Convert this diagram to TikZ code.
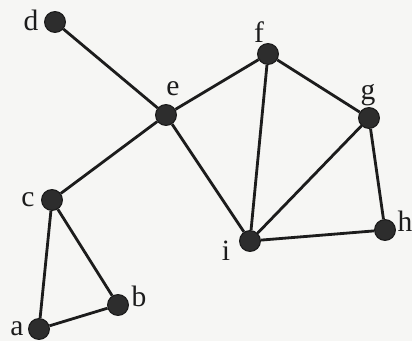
\documentclass[tikz,border=0pt]{standalone}
\usepackage{fontspec}
\setmainfont{Liberation Serif}
\usepackage{tikz}
\definecolor{paper}{RGB}{246,246,244}
\definecolor{ink}{RGB}{28,28,28}
\definecolor{dot}{RGB}{45,45,45}

\begin{document}
\begin{tikzpicture}[x=0.025cm, y=-0.025cm, vertex/.style={circle, fill=dot, draw=ink, line width=0.8pt, minimum size=0.52cm, inner sep=0pt}, vlabel/.style={inner sep=0pt, text=ink, font=\fontsize{21}{24}\selectfont}, edge/.style={draw=ink, line width=2pt}]
\fill[paper] (0,0) rectangle (412,341);
\useasboundingbox (0,0) rectangle (412,341);
\node[vertex] (d) at (55,22) {};
\node[vertex] (e) at (166,115) {};
\node[vertex] (f) at (268,54) {};
\node[vertex] (g) at (369,118) {};
\node[vertex] (c) at (52,200) {};
\node[vertex] (i) at (250,241) {};
\node[vertex] (h) at (385,230) {};
\node[vertex] (b) at (118,305) {};
\node[vertex] (a) at (39,329) {};
\node[vlabel] (ld) at (31,20) {d};
\node[vlabel] (le) at (173,89) {e};
\node[vlabel] (lf) at (259,32) {f};
\node[vlabel] (lg) at (368,95) {g};
\node[vlabel] (lc) at (28,200) {c};
\node[vlabel] (li) at (226,251) {i};
\node[vlabel] (lh) at (405,221) {h};
\node[vlabel] (lb) at (139,296) {b};
\node[vlabel] (la) at (17,329) {a};
\draw[edge] (d) -- (e);
\draw[edge] (e) -- (f);
\draw[edge] (f) -- (g);
\draw[edge] (g) -- (h);
\draw[edge] (h) -- (i);
\draw[edge] (i) -- (g);
\draw[edge] (i) -- (f);
\draw[edge] (i) -- (e);
\draw[edge] (e) -- (c);
\draw[edge] (c) -- (a);
\draw[edge] (c) -- (b);
\draw[edge] (a) -- (b);
\end{tikzpicture}
\end{document}
